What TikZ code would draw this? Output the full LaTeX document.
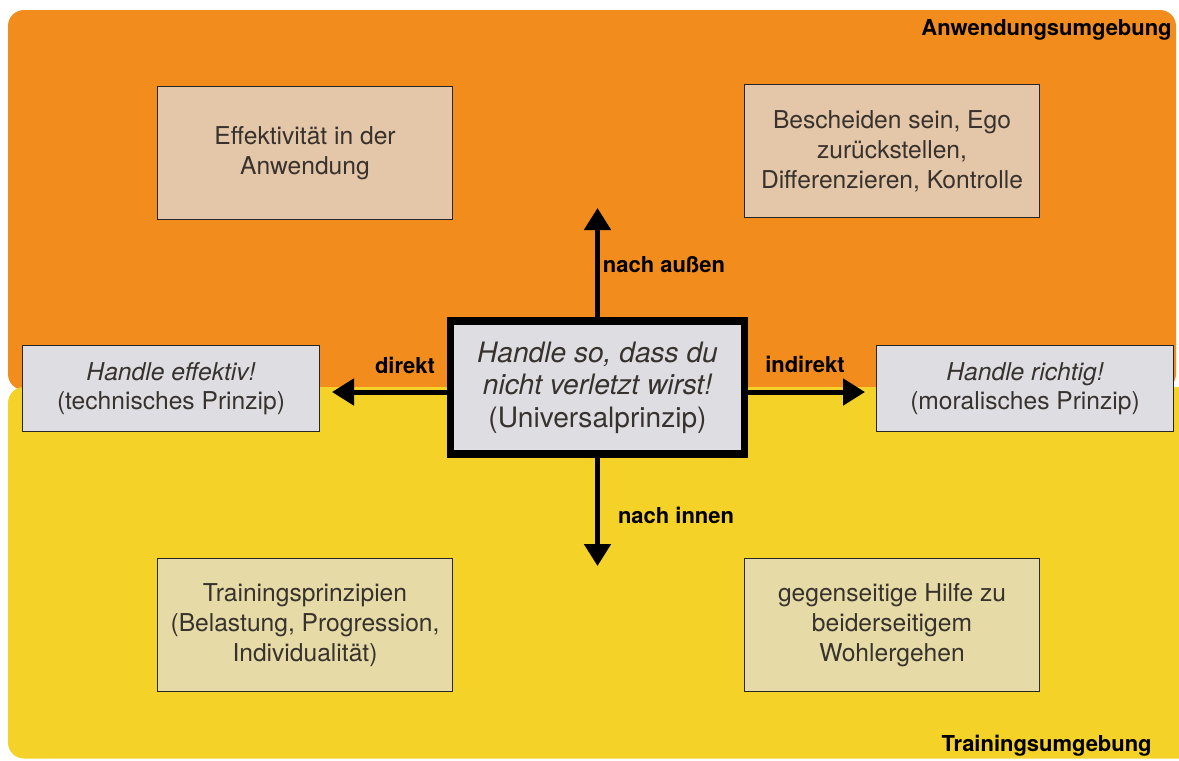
\documentclass[tikz,border=0pt]{standalone}
\usepackage{fontspec}
\setmainfont{TeX Gyre Heros}
\usepackage{xcolor}
\usepackage{tikz}
\usetikzlibrary{arrows.meta,positioning,calc}
\definecolor{myorange}{RGB}{242,141,29}
\definecolor{myyellow}{RGB}{245,210,40}
\definecolor{mytan}{RGB}{228,198,168}
\definecolor{mysand}{RGB}{230,218,166}
\definecolor{mygrey}{RGB}{222,222,226}
\definecolor{mytext}{RGB}{55,50,45}
\tikzset{
  zone/.style={rounded corners=0.32cm},
  infobox/.style={draw=black!85, line width=1pt, align=center, text=mytext,
    minimum width=5.9cm, minimum height=2.66cm, font=\fontsize{14}{17}\selectfont},
  rulebox/.style={draw=black!85, line width=1pt, fill=mygrey, align=center, text=mytext,
    minimum width=5.94cm, minimum height=1.72cm, font=\fontsize{14}{16.5}\selectfont},
  bigarrow/.style={line width=0.1cm, -{Triangle[length=0.44cm, width=0.52cm]}},
  tag/.style={font=\bfseries\fontsize{12.5}{15}\selectfont, text=black}
}

\begin{document}
\begin{tikzpicture}
  \useasboundingbox (0,0) rectangle (23.58,-15.2);

  % Zones
  \fill[myorange, zone] (0.16,-0.2) rectangle (23.52,-7.8);
  \fill[myyellow, zone] (0.16,-7.74) rectangle (23.9,-15.17);
  \node[tag, anchor=east, inner xsep=0pt] (anw) at (23.44,-0.6) {Anwendungsumgebung};
  \node[tag, anchor=east, inner xsep=0pt] (trn) at (23.04,-14.92) {Trainingsumgebung};

  % Boxes
  \node[infobox, fill=mytan] (eff) at (6.10,-3.06) {Effektivität in der\\Anwendung};
  \node[infobox, fill=mytan] (ego) at (17.84,-3.02) {Bescheiden sein, Ego\\zurückstellen,\\Differenzieren, Kontrolle};
  \node[infobox, fill=mysand] (tp) at (6.10,-12.50) {Trainingsprinzipien\\(Belastung, Progression,\\Individualität)};
  \node[infobox, fill=mysand] (hilfe) at (17.84,-12.50) {gegenseitige Hilfe zu\\beiderseitigem\\Wohlergehen};

  \node[draw=black, line width=4pt, fill=mygrey, align=center, text=mytext,
    minimum width=5.88cm, minimum height=2.66cm, font=\fontsize{16}{18.5}\selectfont]
    (univ) at (11.95,-7.75) {\itshape Handle so, dass du\\\itshape nicht verletzt wirst!\\(Universalprinzip)};

  \node[rulebox] (tech) at (3.42,-7.77) {\itshape Handle effektiv!\\(technisches Prinzip)};
  \node[rulebox] (moral) at (20.50,-7.77) {\itshape Handle richtig!\\(moralisches Prinzip)};

  % Arrows
  \coordinate (upend) at (11.95,-4.16);
  \coordinate (downend) at (11.95,-11.32);
  \coordinate (leftend) at (6.64,-7.84);
  \coordinate (rightend) at (17.30,-7.84);
  \draw[bigarrow] (univ.north) -- (upend);
  \draw[bigarrow] (univ.south) -- (downend);
  \draw[bigarrow] (univ.west |- leftend) -- (leftend);
  \draw[bigarrow] (univ.east |- rightend) -- (rightend);

  % Labels
  \node[tag] (aussen) at (13.28,-5.30) {nach außen};
  \node[tag] (innen) at (13.52,-10.30) {nach innen};
  \node[tag] (dir) at (8.10,-7.30) {direkt};
  \node[tag] (indir) at (16.10,-7.28) {indirekt};
\end{tikzpicture}
\end{document}
